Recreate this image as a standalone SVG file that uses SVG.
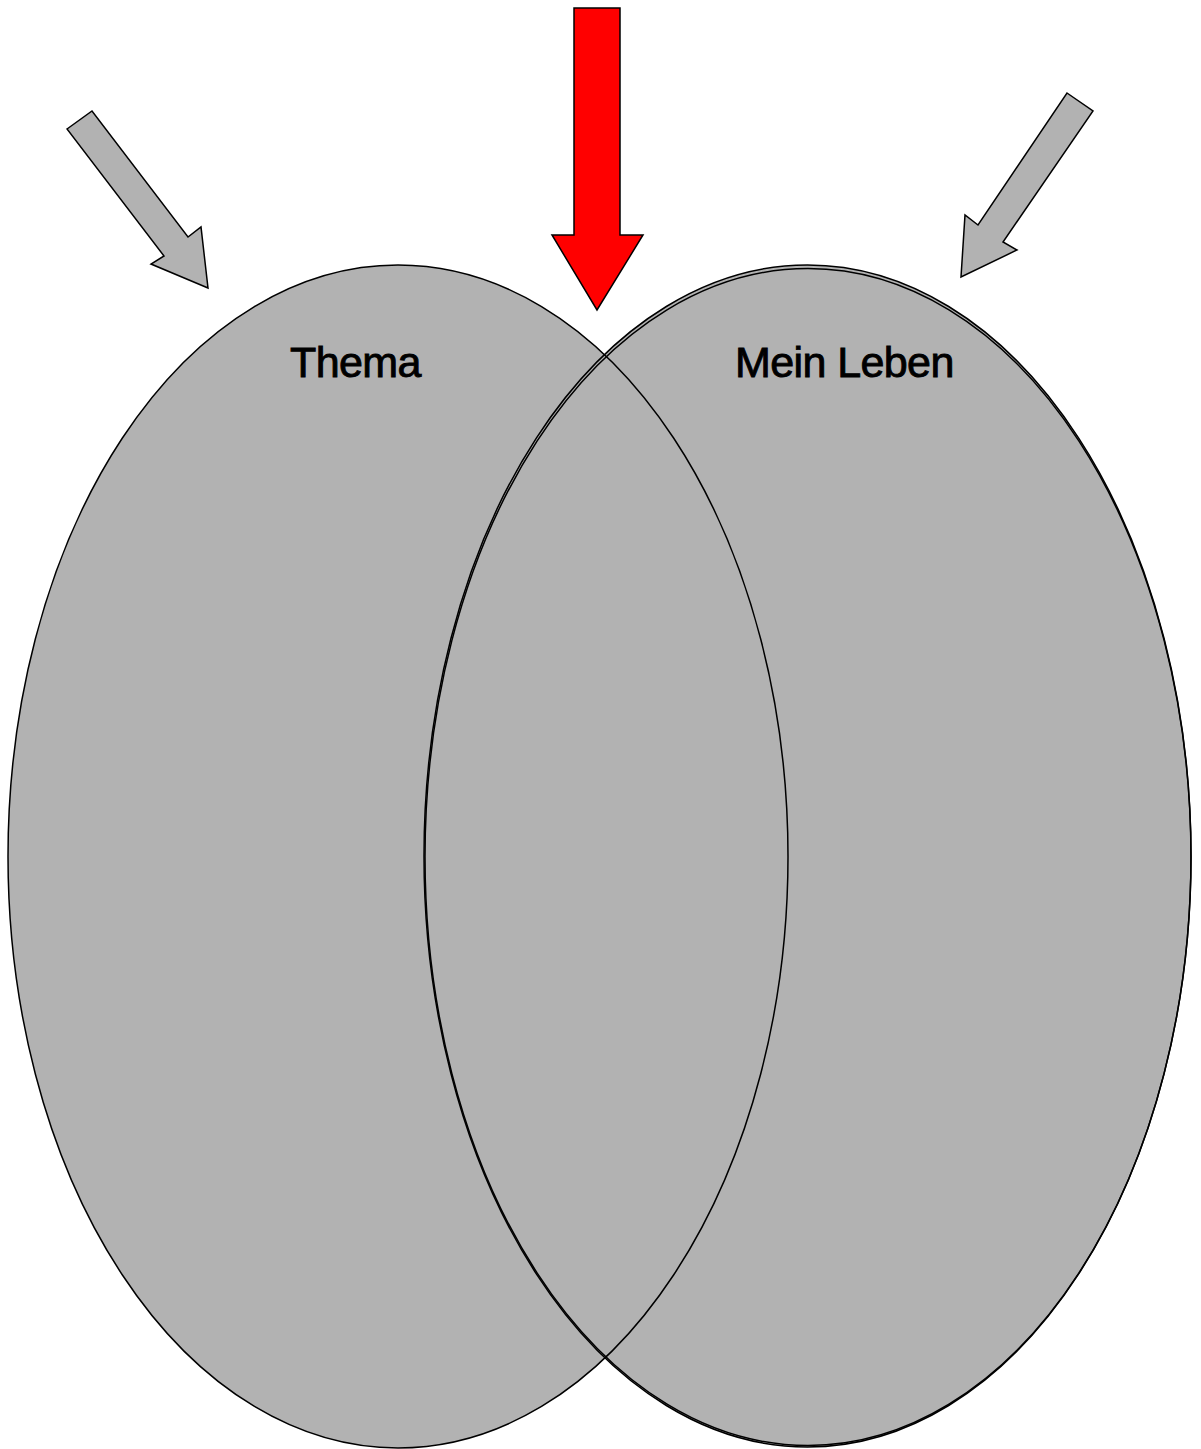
<svg xmlns="http://www.w3.org/2000/svg" width="1201" height="1449" viewBox="0 0 1201 1449">
<style>
.fill{fill:#b2b2b2;stroke:none}
.edge{fill:none;stroke:#000;stroke-width:1.5}
.arrow{stroke:#000;stroke-width:1.5;stroke-linejoin:miter}
.gray{fill:#b2b2b2}
.red{fill:#ff0000}
.label{font-family:"Liberation Sans",Arial,sans-serif;font-size:43px;letter-spacing:-0.6px;fill:#000;stroke:#000;stroke-width:0.9}
</style>
<rect width="1201" height="1449" fill="#fff"/>
<g id="venn">
<g id="fills">
<ellipse class="fill" cx="398" cy="856.5" rx="390" ry="591.5"/>
<ellipse class="fill" cx="807.5" cy="856" rx="383.5" ry="591"/>
</g>
<g id="thema">
<ellipse class="edge" cx="398" cy="856.5" rx="390" ry="591.5"/>
<text class="label" x="290" y="377">Thema</text>
</g>
<g id="mein-leben">
<ellipse class="edge" cx="807.5" cy="856" rx="383.5" ry="591"/>
<ellipse class="edge" cx="808" cy="857" rx="383" ry="588.5"/>
<text class="label" x="735" y="377">Mein Leben</text>
</g>
</g>
<g id="connectors">
<polygon id="arrow-left" class="arrow gray" points="67,129 92,111 188,237 201,227 208,288 151,264 164,256"/>
<polygon id="arrow-center" class="arrow red" points="574,8 620,8 620,235 643,235 597,310 552,235 574,235"/>
<polygon id="arrow-right" class="arrow gray" points="1067,93 1093,111 1003,242 1017,250 961,277 965,215 978,225"/>
</g>
</svg>
